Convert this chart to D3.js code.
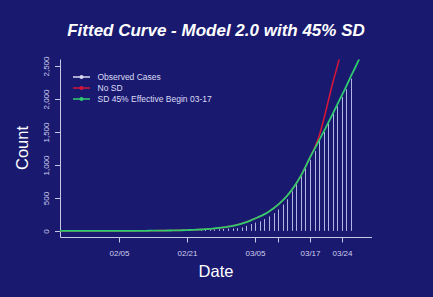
<!DOCTYPE html>
<html>
<head>
<meta charset="utf-8">
<script src="https://cdn.jsdelivr.net/npm/d3@7"></script>
<style>
  html, body { margin: 0; padding: 0; background: #191970; }
  svg { display: block; font-family: "Liberation Sans", Arial, sans-serif; }
</style>
</head>
<body>
<svg id="chart" width="433" height="297"></svg>
<script>
// day index 0 = first day of the series (01/22)
const tickDays = [13, 28, 43, 48, 55, 62];
const tickLabels = ["02/05", "02/21", "03/05", "", "03/17", "03/24"];
const yTicks = [0, 500, 1000, 1500, 2000, 2500];

// observed daily counts, day 0..64
const observed = [
  0, 0, 0, 0, 0, 0, 0, 0, 0, 0,
  0, 0, 0, 0, 0, 0, 0, 0, 0, 0,
  0, 0, 0, 0, 1, 2, 3, 5, 7, 9,
  11, 13, 15, 18, 22, 26, 30, 35, 38, 42,
  52, 76, 104, 126, 145, 180, 220, 270, 325, 400,
  480, 600, 730, 860, 1000, 1080, 1210, 1380, 1500, 1650,
  1780, 1890, 2030, 2150, 2310
];

// fitted, no social distancing, day 0..62
const noSD = [
  0, 0, 0, 0, 0, 0, 0, 0, 0, 0,
  0, 0, 0, 0, 0, 0, 1, 1, 2, 2,
  3, 3, 4, 5, 6, 7, 8, 10, 12, 15,
  18, 21, 26, 31, 37, 45, 54, 65, 78, 93,
  112, 134, 160, 190, 220, 255, 296, 343, 398, 462,
  536, 622, 722, 838, 972, 1115, 1260, 1440, 1690, 1970,
  2250, 2500, 2780
];

// fitted, SD 45% effective from 03-17, day 0..66
const withSD = [
  0, 0, 0, 0, 0, 0, 0, 0, 0, 0,
  0, 0, 0, 0, 0, 0, 1, 1, 2, 2,
  3, 3, 4, 5, 6, 7, 8, 10, 12, 15,
  18, 21, 26, 31, 37, 45, 54, 65, 78, 93,
  112, 134, 160, 190, 220, 255, 296, 343, 398, 462,
  536, 622, 722, 838, 972, 1115, 1245, 1375, 1505, 1642,
  1780, 1920, 2060, 2200, 2350, 2490, 2640
];

const legendItems = [
  {label: "Observed Cases", color: "#d8d8f0"},
  {label: "No SD", color: "#d0153a"},
  {label: "SD 45% Effective Begin 03-17", color: "#2fcc6f"}
];

const svg = d3.select("#chart");
const plotL = 60, plotR = 372, plotT = 59.5, plotB = 237.5;
const axisColor = "#c8c8e6";

const x = d3.scaleLinear().domain([0, 68.6]).range([59.5, 372]);
const y = d3.scaleLinear().domain([-100, 2600]).range([plotB, plotT]);

svg.append("defs").append("clipPath").attr("id", "plotclip")
  .append("rect")
  .attr("x", plotL).attr("y", plotT)
  .attr("width", plotR - plotL).attr("height", plotB - plotT);

// title
svg.append("text")
  .attr("x", 216).attr("y", 36)
  .attr("text-anchor", "middle")
  .attr("fill", "white")
  .style("font-size", "17px")
  .style("font-weight", "bold")
  .style("font-style", "italic")
  .text("Fitted Curve - Model 2.0 with 45% SD");

// L-shaped frame
svg.append("path")
  .attr("d", `M${plotL + 0.5},${plotT}V${plotB}H${plotR}`)
  .attr("fill", "none")
  .attr("stroke", axisColor)
  .attr("stroke-width", 1);

// x ticks
const xt = svg.append("g");
tickDays.forEach((d, i) => {
  const px = Math.round(x(d)) + 0.5;
  xt.append("line")
    .attr("x1", px).attr("x2", px)
    .attr("y1", plotB).attr("y2", plotB + 5)
    .attr("stroke", axisColor);
  xt.append("text")
    .attr("x", px).attr("y", 256)
    .attr("text-anchor", "middle")
    .attr("fill", "#d0d0ee")
    .style("font-size", "8px")
    .text(tickLabels[i]);
});

// y ticks
const yt = svg.append("g");
yTicks.forEach(v => {
  const py = Math.round(y(v)) + 0.5;
  yt.append("line")
    .attr("x1", plotL - 5).attr("x2", plotL)
    .attr("y1", py).attr("y2", py)
    .attr("stroke", axisColor);
  yt.append("text")
    .attr("transform", `translate(48.5, ${py}) rotate(-90)`)
    .attr("text-anchor", "middle")
    .attr("fill", "#d0d0ee")
    .style("font-size", "8px")
    .text(d3.format(",")(v));
});

// axis titles
svg.append("text")
  .attr("x", 216).attr("y", 276.5)
  .attr("text-anchor", "middle")
  .attr("fill", "white")
  .style("font-size", "16.5px")
  .text("Date");

svg.append("text")
  .attr("transform", "translate(27.5, 148) rotate(-90)")
  .attr("text-anchor", "middle")
  .attr("fill", "white")
  .style("font-size", "16.5px")
  .text("Count");

const plot = svg.append("g").attr("clip-path", "url(#plotclip)");

// observed cases as vertical lines
plot.selectAll("line.obs")
  .data(observed)
  .join("line")
  .attr("class", "obs")
  .attr("x1", (d, i) => Math.round(x(i)) + 0.5)
  .attr("x2", (d, i) => Math.round(x(i)) + 0.5)
  .attr("y1", y(0))
  .attr("y2", d => y(d))
  .attr("stroke", "#b4b4e4")
  .attr("stroke-width", 1)
  .attr("opacity", d => d > 0 ? 1 : 0);

const line = d3.line()
  .x((d, i) => x(i))
  .y(d => y(d))
  .curve(d3.curveMonotoneX);

plot.append("path")
  .attr("d", line(noSD))
  .attr("fill", "none")
  .attr("stroke", legendItems[1].color)
  .attr("stroke-width", 1.6);

plot.append("path")
  .attr("d", line(withSD))
  .attr("fill", "none")
  .attr("stroke", legendItems[2].color)
  .attr("stroke-width", 1.8);

// legend
const lg = svg.append("g").attr("transform", "translate(73, 77)");
legendItems.forEach((item, i) => {
  const row = lg.append("g").attr("transform", `translate(0, ${i * 11})`);
  row.append("line")
    .attr("x1", 0).attr("x2", 17)
    .attr("y1", 0).attr("y2", 0)
    .attr("stroke", item.color)
    .attr("stroke-width", 1.5);
  row.append("circle")
    .attr("cx", 8.5).attr("cy", 0).attr("r", 2)
    .attr("fill", item.color);
  row.append("text")
    .attr("x", 24.5).attr("y", 3)
    .attr("fill", "#dcdcf5")
    .style("font-size", "8.5px")
    .text(item.label);
});
</script>
</body>
</html>
